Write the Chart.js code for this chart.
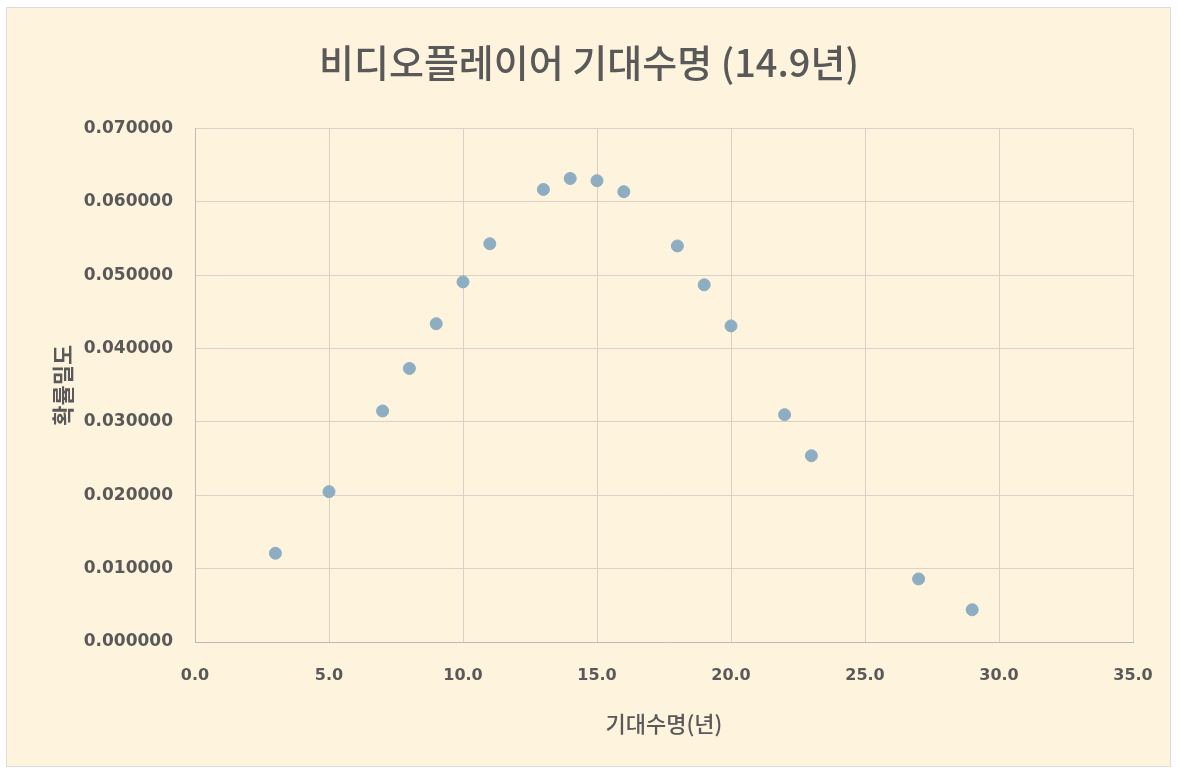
<!DOCTYPE html>
<html>
<head>
<meta charset="utf-8">
<script src="https://cdn.jsdelivr.net/npm/chart.js@4/dist/chart.umd.min.js"></script>
<style>
    html, body {
        margin : 0;
        padding : 0;
        background : #FFFFFF;
    }

    .chart-box {
        width : 1178px;
        height : 774px;
    }
</style>
</head>
<body>
<div class="chart-box">
    <canvas id="chart" width="1178" height="774"></canvas>
</div>
<script>
var lifeYears = [3, 5, 7, 8, 9, 10, 11, 13, 14, 15, 16, 18, 19, 20, 22, 23, 27, 29];
var density = [0.0121, 0.0205, 0.0315, 0.0373, 0.0434, 0.0491, 0.0543, 0.0617, 0.0632, 0.0629, 0.0614, 0.0540, 0.0487, 0.0431, 0.0310, 0.0254, 0.0086, 0.0044];

var xTicks = [0, 5, 10, 15, 20, 25, 30, 35];
var yTicks = [0, 0.01, 0.02, 0.03, 0.04, 0.05, 0.06, 0.07];

var TEXT_COLOR = '#595959';
var GRID_COLOR = '#DAD0C8';
var POINT_COLOR = '#8DAEC2';

var points = lifeYears.map((x, i) => ({ x: x, y: density[i] }));

// cream frame behind the whole chart
var frame = {
    id: 'frame',
    beforeDraw(chart) {
        var ctx = chart.ctx;
        ctx.save();
        ctx.fillStyle = '#FFFFFF';
        ctx.fillRect(0, 0, chart.width, chart.height);
        ctx.fillStyle = '#FEF3DD';
        ctx.fillRect(6, 7, chart.width - 13, chart.height - 14);
        ctx.strokeStyle = '#DCDCDC';
        ctx.lineWidth = 1;
        ctx.strokeRect(6.5, 7.5, chart.width - 14, chart.height - 15);
        ctx.restore();
    }
};

new Chart(document.getElementById('chart'), {
    type: 'scatter',
    data: {
        datasets: [{
            label: '확률밀도',
            data: points,
            backgroundColor: POINT_COLOR,
            borderColor: POINT_COLOR,
            pointRadius: 6,
            pointHoverRadius: 6
        }]
    },
    options: {
        responsive: false,
        animation: false,
        layout: {
            padding: 0
        },
        plugins: {
            legend: { display: false },
            tooltip: { enabled: false },
            title: {
                display: true,
                text: '비디오플레이어 기대수명 (14.9년)',
                color: TEXT_COLOR,
                font: { family: '"Noto Sans CJK KR"', size: 38, weight: '500', lineHeight: 1.2 },
                padding: { top: 40, bottom: 43 }
            }
        },
        scales: {
            x: {
                type: 'linear',
                min: 0,
                max: 35,
                afterBuildTicks: axis => { axis.ticks = xTicks.map(v => ({ value: v })); },
                afterFit: axis => { axis.height = 132; },
                ticks: {
                    color: TEXT_COLOR,
                    padding: 24,
                    font: { family: '"DejaVu Sans"', size: 16, weight: 'bold' },
                    callback: v => v.toFixed(1)
                },
                grid: { color: GRID_COLOR, drawTicks: false },
                border: { color: '#BFB8B2' },
                title: {
                    display: true,
                    text: '기대수명(년)',
                    color: TEXT_COLOR,
                    font: { family: '"Noto Sans CJK KR"', size: 22, weight: '500', lineHeight: 1.2 },
                    padding: { top: 0, bottom: 37 }
                }
            },
            y: {
                type: 'linear',
                min: 0,
                max: 0.07,
                afterBuildTicks: axis => { axis.ticks = yTicks.map(v => ({ value: v })); },
                afterFit: axis => { axis.width = 195; },
                ticks: {
                    color: TEXT_COLOR,
                    padding: 22,
                    font: { family: '"DejaVu Sans"', size: 17, weight: 'bold' },
                    callback: v => v.toFixed(6)
                },
                grid: { color: GRID_COLOR, drawTicks: false },
                border: { color: '#BFB8B2' },
                title: {
                    display: true,
                    text: '확률밀도',
                    color: TEXT_COLOR,
                    font: { family: '"Noto Sans CJK KR"', size: 22, weight: 'bold', lineHeight: 1.2 },
                    padding: { top: 49, bottom: 0 }
                }
            },
            // empty right-side axis, only reserves the gap right of the plot
            right: {
                type: 'linear',
                position: 'right',
                display: true,
                afterFit: axis => { axis.width = 45; },
                ticks: { display: false },
                grid: { display: false, drawOnChartArea: false },
                border: { display: false }
            }
        }
    },
    plugins: [frame]
});
</script>
</body>
</html>
